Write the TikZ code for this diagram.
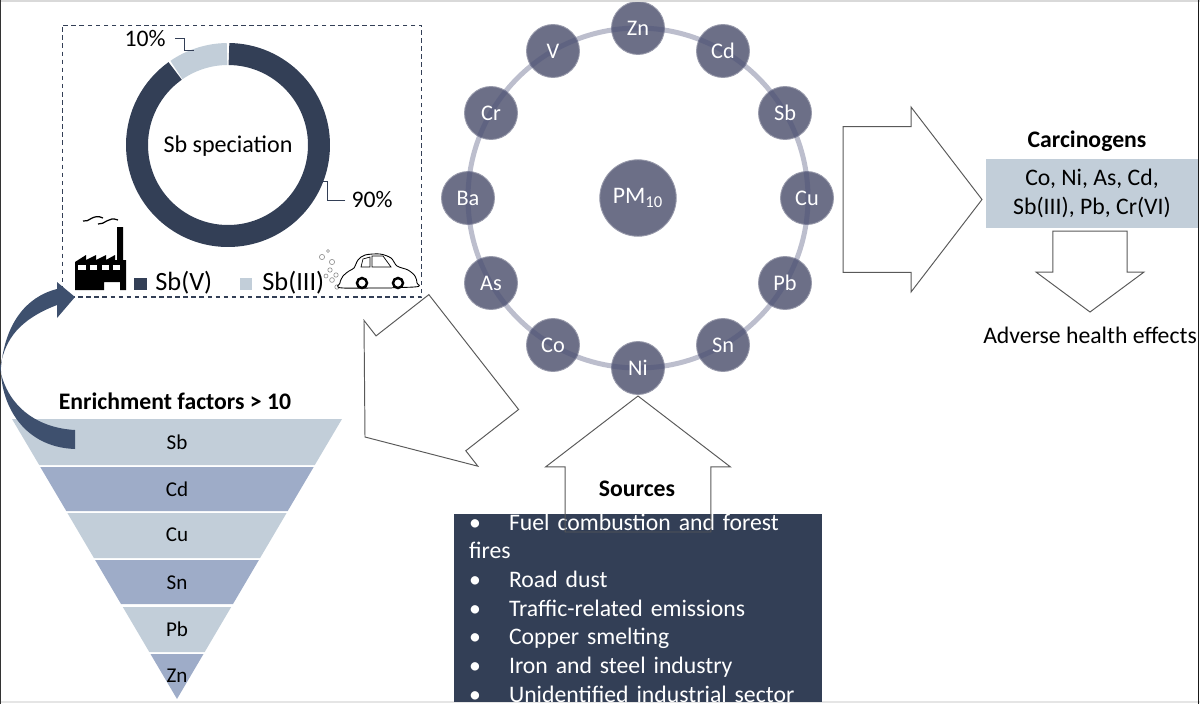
\documentclass[tikz,border=0pt]{standalone}
\usepackage{fontspec}
\setmainfont{Carlito}
\usetikzlibrary{positioning, shapes.arrows}
\definecolor{sbdark}{HTML}{333F56}
\definecolor{sblight}{HTML}{C2CED9}
\definecolor{bandblue}{HTML}{9EACC8}
\definecolor{metalgrey}{HTML}{6C6F87}
\definecolor{ringblue}{HTML}{4A4F78}
\definecolor{curveblue}{HTML}{3E506E}
\pgfdeclarelayer{discs}
\pgfsetlayers{discs,main}
\newcommand{\txtsize}{\fontsize{13.5}{16.3}\selectfont}

\begin{document}
\begin{tikzpicture}[x=0.02cm, y=-0.02cm, font=\txtsize,
metal/.style={circle, text=white, inner sep=0pt, minimum size=1.06cm, font=\fontsize{12.7}{15}\selectfont, append after command={\pgfextra{\begin{pgfonlayer}{discs}\fill[metalgrey, draw=metalgrey!70!white, line width=0.5pt] (\tikzlastnode.center) circle (0.53cm);\end{pgfonlayer}}}},
band/.style={font=\fontsize{12}{15}\selectfont, inner sep=0pt},
blockarrow/.style={single arrow, draw=black!65, line width=0.55pt, inner xsep=0pt, outer sep=0pt, anchor=tip},
bigarrow/.style={blockarrow, inner ysep=0.92cm, minimum width=3.7cm, single arrow tip angle=105}]
\useasboundingbox (0,0) rectangle (1200,704);
\draw[black!15, line width=1.5pt] (0,0.5) -- (1200,0.5);
\draw[black!10, line width=1.5pt] (0,702) -- (1200,702);
\draw[black!80, line width=0.7pt] (0.5,0) -- (0.5,704);
\draw[black!90, line width=0.8pt] (1198.7,0) -- (1198.7,704);

\node[draw=sbdark, dashed, dash pattern=on 2.6pt off 2pt, line width=0.6pt, minimum width=7.2cm, minimum height=5.44cm, inner sep=0pt] (specbox) at (242,161) {};
\draw[sbdark, line width=0.44cm] (228,145) ++(-89.4:91) arc[start angle=-89.4, end angle=234.5, radius=91];
\draw[sblight, line width=0.44cm] (228,145) ++(-90.6:91) arc[start angle=-90.6, end angle=-124.5, radius=91];
\node (speciation) at (228,146) {\fontsize{13.7}{16}\selectfont Sb speciation};
\node (pct10) at (145,39) {10\%};
\node (pct90) at (372,200) {90\%};
\coordinate (donut10) at (194,50);
\coordinate (donut90) at (313,181);
\draw[sbdark, line width=0.5pt] (175,38) -- (184,38) -- (184,50) -- (donut10);
\draw[sbdark, line width=0.5pt] (pct90.west) -- (327,200) -- (327,181) -- (donut90);

\fill[black] (75,290) -- (75,262) -- (86,255) -- (86,260) -- (96,255) -- (96,260) -- (106,255) -- (106,260) -- (115,255) -- (115,260) -- (117,260) -- (117,227) -- (123,227) -- (123,260) -- (126,260) -- (126,290) -- (120,290) -- (120,282) -- (104,282) -- (104,290) -- cycle;
\fill[white] (78,265) rectangle (86,270);
\fill[white] (90,265) rectangle (97,270);
\fill[white] (102,265) rectangle (109,270);
\fill[white] (113,265) rectangle (120,270);
\draw[black, line width=0.7pt] (83,221) .. controls (89,223) and (93,213) .. (103,218);
\draw[black, line width=0.7pt] (98,224) .. controls (105,225) and (108,216) .. (118,220);

\fill[sbdark] (134,278) rectangle (147,290);
\node[anchor=west, inner sep=0pt, font=\fontsize{15}{18}\selectfont] (legendv) at (155,283) {Sb(V)};
\fill[sblight] (240,278) rectangle (252,290);
\node[anchor=west, inner sep=0pt, font=\fontsize{15}{18}\selectfont] (legendiii) at (262,283) {Sb(III)};

\draw[black!45, line width=0.35pt] (328,251) circle (1.5) (322,257) circle (2.6) (332,262) circle (2.6) (330,270) circle (2.2) (336,275) circle (2.2) (326,276) circle (2) (332,280) circle (2.4) (337,287) circle (2.2);
\draw[black, line width=0.5pt, fill=white] plot[smooth cycle, tension=0.5] coordinates {(340,283) (343,276) (349,271) (354,268) (358,260) (365,255) (380,254) (391,258) (397,266) (408,270) (415,276) (417,283) (414,287) (343,288)};
\draw[black, line width=0.4pt] (361,267) -- (363,259) -- (370,257) -- (370,267) -- cycle;
\draw[black, line width=0.4pt] (372,267) -- (372,256) -- (383,256) -- (391,267) -- cycle;
\fill[black!40] (368,287) rectangle (392,289);
\draw[black, line width=1.4pt, fill=white] (362,283) circle (5);
\draw[black, line width=1.4pt, fill=white] (398,283) circle (5);

\draw[ringblue, opacity=0.37, line width=0.1cm] (638,198) circle (170);
\node[metal] (zn) at (638,28) {Zn};
\node[metal] (cd) at (723,51) {Cd};
\node[metal] (sb) at (785,113) {Sb};
\node[metal] (cu) at (807,198) {Cu};
\node[metal] (pb) at (785,283) {Pb};
\node[metal] (sn) at (723,345) {Sn};
\node[metal] (ni) at (638,368) {Ni};
\node[metal] (co) at (553,345) {Co};
\node[metal] (as) at (491,283) {As};
\node[metal] (ba) at (468,198) {Ba};
\node[metal] (cr) at (491,113) {Cr};
\node[metal] (v) at (553,51) {V};
\node[circle, fill=metalgrey, draw=metalgrey!70!white, line width=0.5pt, text=white, inner sep=0pt, minimum size=1.53cm] (pm) at (638,198) {PM\textsubscript{10}};

\node[bigarrow, minimum height=2.78cm] (tocarc) at (982,199.5) {};
\node[fill=sblight, minimum width=4.24cm, minimum height=1.38cm, inner sep=0pt, align=center] (carcbox) at (1092,193.5) {Co, Ni, As, Cd,\\Sb(III), Pb, Cr(VI)};
\node[font=\txtsize\bfseries, inner sep=0pt, above=0.14cm of carcbox, xshift=-0.1cm] (carctitle) {Carcinogens};
\node[blockarrow, rotate=-90, inner ysep=0.54cm, minimum width=2.16cm, minimum height=1.62cm, single arrow tip angle=107] (tohealth) at (1090,312) {};
\node[inner sep=0pt] (adverse) at (1090,335) {Adverse health effects};

\node[bigarrow, rotate=218, minimum height=2.76cm] (toenrich) at (365,437) {};

\node[fill=sbdark, text=white, minimum width=7.36cm, minimum height=3.68cm, inner sep=0pt, text width=6.76cm, align=left] (srcbox) at (638,608) {\makebox[0.8cm][l]{\textbullet}Fuel combustion and forest fires\\\makebox[0.8cm][l]{\textbullet}Road dust\\\makebox[0.8cm][l]{\textbullet}Traffic-related emissions\\\makebox[0.8cm][l]{\textbullet}Copper smelting\\\makebox[0.8cm][l]{\textbullet}Iron and steel industry\\\makebox[0.8cm][l]{\textbullet}Unidentified industrial sector};
\node[bigarrow, rotate=90, minimum height=2.72cm] (tometals) at (638,396) {};
\node[font=\txtsize\bfseries, inner sep=0pt] (sources) at (637,489) {Sources};

\node[font=\txtsize\bfseries, inner sep=0pt] (enrichtitle) at (175,401) {Enrichment factors > 10};
\fill[sblight] (12,419) -- (342,419) -- (314.8,465) -- (39.2,465) -- cycle;
\fill[bandblue] (40.3,467) -- (313.7,467) -- (287.7,511) -- (66.3,511) -- cycle;
\fill[sblight] (67.4,513) -- (286.6,513) -- (260.1,558) -- (93.9,558) -- cycle;
\fill[bandblue] (95.1,560) -- (258.9,560) -- (233,604) -- (121,604) -- cycle;
\fill[sblight] (122.8,607) -- (231.2,607) -- (204.7,652) -- (149.3,652) -- cycle;
\fill[bandblue] (150.5,654) -- (203.5,654) -- (177,699) -- cycle;
\node[band] (esb) at (177,442) {Sb};
\node[band] (ecd) at (177,489) {Cd};
\node[band] (ecu) at (177,535) {Cu};
\node[band] (esn) at (177,583) {Sn};
\node[band] (epb) at (177,629) {Pb};
\node[band] (ezn) at (177,676) {Zn};

\fill[curveblue] (75,430) .. controls (40,428) and (12,410) .. (2,377) .. controls (-1,368) and (0,365) .. (1,363) .. controls (6,340) and (18,320) .. (57,305) -- (57,318) -- (75,297) -- (57,282) -- (57,289) .. controls (25,297) and (5,325) .. (1,367) .. controls (0,400) and (20,447) .. (75,449) -- cycle;
\end{tikzpicture}
\end{document}
